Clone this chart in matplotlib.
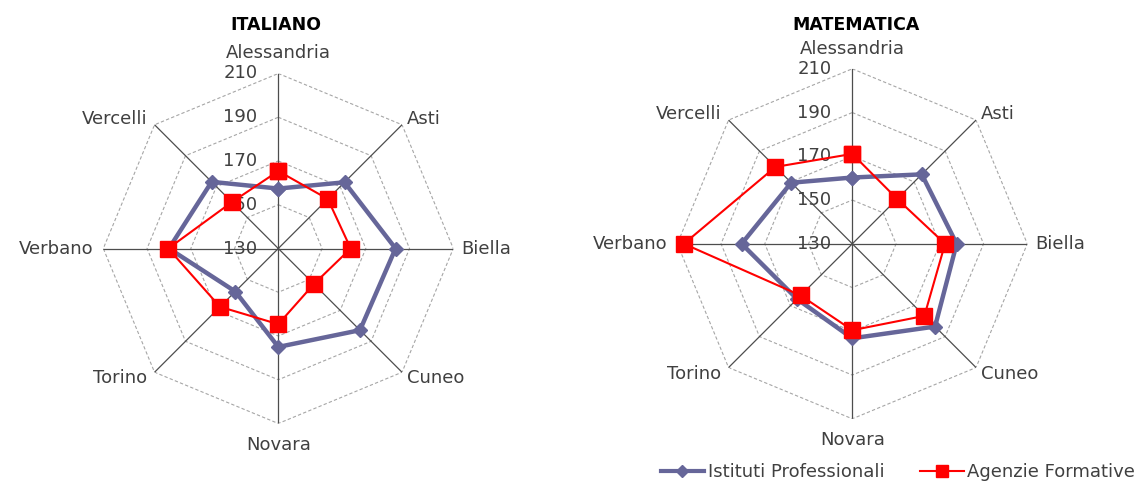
import numpy as np
import matplotlib
matplotlib.use('Agg')
import matplotlib.pyplot as plt
from matplotlib.lines import Line2D

categories = ['Alessandria', 'Asti', 'Biella', 'Cuneo', 'Novara', 'Torino', 'Verbano', 'Vercelli']
ticks = [130, 150, 170, 190, 210]

ita_istituti = [157.4, 172.8, 183.6, 182.8, 175.0, 157.8, 180.0, 173.1]
ita_agenzie = [165.4, 162.0, 163.1, 153.0, 164.6, 167.7, 180.3, 160.0]
mat_istituti = [160.3, 174.9, 177.7, 183.5, 173.2, 165.7, 180.6, 169.5]
mat_agenzie = [171.1, 159.0, 172.4, 176.6, 169.5, 163.4, 207.0, 179.7]

blue = '#666699'
red = '#ff0000'
txt = '#404040'
plt.rcParams['font.family'] = ['DejaVu Sans']

W, H = 1136, 482
fig = plt.figure(figsize=(W / 100, H / 100), dpi=100)

n = len(categories)
theta = np.linspace(0, 2 * np.pi, n, endpoint=False)
th_closed = np.append(theta, theta[0])

# label offsets in pixels (dx, dy, ha)
offs = [(0, 20, 'center'), (5, 6, 'left'), (8, 0, 'left'), (5, -6, 'left'),
        (0, -21, 'center'), (-7, -6, 'right'), (-10, 0, 'right'), (-7, 6, 'right')]
px = 72 / 100


def radar(cx, cy, R, title, tx, ist, ag):
    ax = fig.add_axes([(cx - R) / W, (H - cy - R) / H, 2 * R / W, 2 * R / H], projection='polar')
    ax.set_theta_zero_location('N')
    ax.set_theta_direction(-1)
    ax.set_ylim(ticks[0], ticks[-1])
    ax.grid(False)
    ax.spines['polar'].set_visible(False)
    ax.set_xticks([])
    ax.set_yticks([])
    ax.set_facecolor('none')

    for t in ticks[1:]:
        ax.plot(th_closed, [t] * (n + 1), color='#a6a6a6', lw=0.8, ls=(0, (3, 2)), zorder=1)
    for th in theta:
        ax.plot([th, th], [ticks[0], ticks[-1]], color='#4d4d4d', lw=0.9, zorder=2)
    for t in ticks:
        ax.annotate(str(t), xy=(0, t), xytext=(-21 * px, 0), textcoords='offset points',
                    ha='right', va='center', fontsize=13, color=txt, zorder=3)
    for th, lab, (dx, dy, ha) in zip(theta, categories, offs):
        ax.annotate(lab, xy=(th, ticks[-1]), xytext=(dx * px, dy * px), textcoords='offset points',
                    ha=ha, va='center', fontsize=13, color=txt, annotation_clip=False)

    ax.plot(th_closed, ist + ist[:1], color=blue, lw=3.2, marker='D', ms=7.5, zorder=4, clip_on=False)
    ax.plot(th_closed, ag + ag[:1], color=red, lw=1.5, marker='s', ms=11.5, zorder=5, clip_on=False)
    fig.text(tx / W, 1 - 25 / H, title, ha='center', va='center', fontsize=12.5, fontweight='bold')


radar(278.3, 248.5, 175, 'ITALIANO', 276, ita_istituti, ita_agenzie)
radar(852.3, 243.8, 175, 'MATEMATICA', 856, mat_istituti, mat_agenzie)

handles = [Line2D([], [], color=blue, lw=3, marker='D', ms=6),
           Line2D([], [], color=red, lw=1.5, marker='s', ms=8)]
fig.legend(handles, ['Istituti Professionali', 'Agenzie Formative'], loc='center',
           bbox_to_anchor=(898 / W, 1 - 472 / H), ncol=2, frameon=False, fontsize=13,
           handlelength=2.4, handletextpad=0.2, columnspacing=2.0, labelcolor=txt)

fig.savefig('out.png', dpi=100)
